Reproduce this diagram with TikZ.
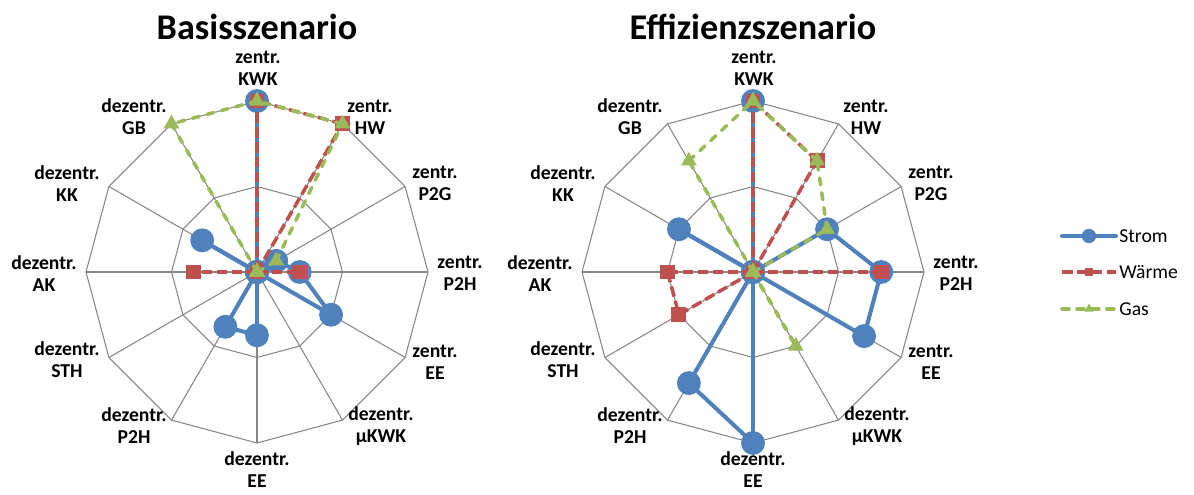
\documentclass[tikz,border=0pt]{standalone}
\usepackage{fontspec}
\setmainfont{Carlito}
\usetikzlibrary{shapes.geometric}
\definecolor{stromblau}{RGB}{79,129,189}
\definecolor{waermerot}{RGB}{192,80,77}
\definecolor{gasgruen}{RGB}{155,187,89}
\definecolor{netzgrau}{RGB}{134,134,134}
\tikzset{
  netz/.style={netzgrau, line width=0.6pt, line join=round},
  strom/.style={stromblau, line width=2.3pt, line cap=round},
  waerme/.style={waermerot, line width=2pt, dash pattern=on 6pt off 2.5pt},
  gas/.style={gasgruen, line width=2pt, line cap=round, dash pattern=on 4pt off 4.5pt},
  kreis/.style={circle, fill=stromblau, inner sep=0pt, minimum size=13.6pt},
  quadrat/.style={rectangle, fill=waermerot, inner sep=0pt, minimum size=8.5pt},
  dreieck/.style={regular polygon, regular polygon sides=3, fill=gasgruen, inner sep=0pt, minimum size=10.4pt},
  achse/.style={align=center, inner sep=0pt, font=\fontsize{11.2}{12.5}\selectfont\bfseries},
  titel/.style={anchor=base, inner sep=0pt, font=\fontsize{20.6}{24}\selectfont\bfseries},
  legtext/.style={anchor=west, inner sep=0pt, font=\fontsize{11.2}{13}\selectfont},
}
% one data series: name, line style, marker style, 12 values
% (each segment is drawn from its inner end outwards)
\newcommand{\reihe}[4]{%
  \def\werte{{#4}}%
  \foreach \v [count=\i from 0] in {#4}
    \coordinate (#1-\i) at ({90-30*\i}:{171*\v});
  \foreach \i in {0,...,11}{
    \pgfmathtruncatemacro\j{mod(\i+1,12)}
    \pgfmathtruncatemacro\aussen{\werte[\j] > \werte[\i]}
    \ifnum\aussen=1 \draw[#2] (#1-\i) -- (#1-\j); \else \draw[#2] (#1-\j) -- (#1-\i); \fi
  }
  \foreach \i in {0,...,11}
    \node[#3] (#1-m\i) at (#1-\i) {};
}
\begin{document}
\begin{tikzpicture}[x=0.02cm, y=0.02cm]
  \useasboundingbox (0,0) rectangle (1194,494);
  %draw grid, titles and axis labels
  \foreach \cx/\titeltext/\n in {257/Basisszenario/b, 753/Effizienzszenario/e}
  {
    \begin{scope}[shift={(\cx,222)}]
      \node[titel] (titel-\n) at (0,232) {\titeltext};
      \foreach \i in {0,...,11}
        \draw[netz] (0,0) -- ({90-30*\i}:171);
      \draw[netz] (90:171) \foreach \i in {1,...,11}{ -- ({90-30*\i}:171)} -- cycle;
      \draw[netz] (90:85.5) \foreach \i in {1,...,11}{ -- ({90-30*\i}:85.5)} -- cycle;
      \foreach \lx/\ly/\txt [count=\k] in {1/204/zentr.\\KWK, 113/155/zentr.\\HW,
          178/89/zentr.\\P2G, 203/-1/zentr.\\P2H, 178/-90/zentr.\\EE,
          124/-154/dezentr.\\µKWK, 0/-198/dezentr.\\EE, -123/-154/dezentr.\\P2H,
          -190/-88/dezentr.\\STH, -213/-2/dezentr.\\AK, -190/88/dezentr.\\KK,
          -123/155/dezentr.\\GB}
        \node[achse] (\n-achse-\k) at (\lx,\ly) {\txt};
    \end{scope}
  }
  %draw data
  \begin{scope}[shift={(257,222)}]
    \reihe{b-strom}{strom}{kreis}{1,0,0.13,0.25,0.5,0,0.37,0.37,0,0,0.37,0}
    \reihe{b-waerme}{waerme}{quadrat}{1,1,0,0.25,0,0,0,0,0,0.37,0,0}
    \reihe{b-gas}{gas}{dreieck}{1,1,0.13,0,0,0,0,0,0,0,0,1}
  \end{scope}
  \begin{scope}[shift={(753,222)}]
    \reihe{e-strom}{strom}{kreis}{1,0,0.5,0.75,0.75,0,1,0.75,0,0,0.5,0}
    \reihe{e-waerme}{waerme}{quadrat}{1,0.75,0,0.75,0,0,0,0,0.5,0.5,0,0}
    \reihe{e-gas}{gas}{dreieck}{1,0.75,0.5,0,0,0.5,0,0,0,0,0,0.75}
  \end{scope}
  %legend
  \foreach \y/\name/\marke/\txt in {258/strom/kreis/Strom, 222/waerme/quadrat/Wärme, 185/gas/dreieck/Gas}
  {
    \coordinate (leg-\name-a) at (1062,\y);
    \coordinate (leg-\name-b) at (1116,\y);
    \draw[\name] (leg-\name-a) -- (leg-\name-b);
    \node[\marke, scale=0.6] (leg-\name-m) at (1089,\y) {};
    \node[legtext] (leg-\name-t) at (1119,\y) {\txt};
  }
\end{tikzpicture}
\end{document}
